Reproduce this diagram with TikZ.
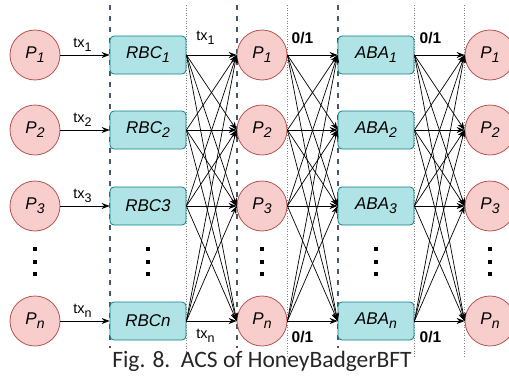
\documentclass[tikz,border=0pt]{standalone}
\usepackage{fontspec}
\setmainfont{Liberation Sans}
\newfontfamily\capfont{Carlito}
\usetikzlibrary{arrows.meta}
\definecolor{pfill}{HTML}{F8CECC}
\definecolor{pdraw}{HTML}{B85450}
\definecolor{bfill}{HTML}{B0E3E6}
\definecolor{bdraw}{HTML}{0E8088}
\definecolor{sepcol}{HTML}{46566B}
\newcommand\lowidx[2][14]{\raisebox{-4pt}{\fontsize{#1}{#1}\selectfont #2}}
\tikzset{
  party/.style={circle,draw=pdraw,fill=pfill,line width=0.8pt,minimum size=50pt,inner sep=0pt,
                font=\fontsize{17}{17}\selectfont\itshape},
  inst/.style={rectangle,rounded corners=4pt,draw=bdraw,fill=bfill,line width=0.8pt,
               minimum width=76pt,minimum height=38pt,inner sep=0pt,font=\fontsize{17}{17}\selectfont\itshape},
  msg/.style={-{Stealth[length=8pt,width=6pt]},line width=0.7pt},
  lbl/.style={font=\fontsize{14.5}{14.5}\selectfont,inner sep=1pt},
  bit/.style={font=\fontsize{15.5}{15.5}\selectfont\bfseries,inner sep=1pt},
  phase/.style={sepcol,dash pattern=on 5pt off 6pt,line width=1.6pt},
  split/.style={gray,dotted,line width=0.6pt}
}
\begin{document}
\begin{tikzpicture}[x=1pt,y=-1pt]
\useasboundingbox (0,0) rectangle (509,378);
% phase separators, behind the nodes
\foreach \x in {110,237,338} \draw[phase] (\x,5) -- (\x,348);
\foreach \x in {186,287,414,464} \draw[split] (\x,5) -- (\x,358);
% parties and instances
\node[inst] (rbc1) at (148,55) {RBC\lowidx{1}};
\node[inst] (rbc2) at (148,130) {RBC\lowidx{2}};
\node[inst] (rbc3) at (148,206) {RBC3};
\node[inst] (rbc4) at (148,321) {RBC\textit{n}};
\foreach \i/\y/\t in {1/55/1,2/130/2,3/206/3,4/321/n}{
  \node[party] (a\i) at (35,\y) {P\lowidx{\t}};
  \node[party] (b\i) at (262,\y) {P\lowidx{\t}};
  \node[party] (c\i) at (490,\y) {P\lowidx{\t}};
  \node[inst] (aba\i) at (376,\y) {ABA\lowidx{\t}};
  \draw[msg] (a\i.east) -- node[lbl,above=2pt,pos=0.45] {tx\lowidx[12.5]{\t}} (rbc\i.west);
}
% vertical dots
\foreach \x in {35,148,262,376,490}
  \foreach \y in {249,262,274} \fill (\x-1.6,\y-1.6) rectangle (\x+1.6,\y+1.6);
% all-to-all messages
\foreach \i in {1,...,4}{\foreach \j in {1,...,4}{
  \draw[msg] (rbc\i.east) -- (b\j.west);
  \draw[msg] (b\i.east) -- (aba\j.west);
  \draw[msg] (aba\i.east) -- (c\j.west);
}}
\path (rbc1.east) -- node[lbl,above=9pt,pos=0.38] {tx\lowidx[12.5]{1}} (b1.west);
\path (rbc4.east) -- node[lbl,below=7pt,pos=0.38] {tx\lowidx[12.5]{n}} (b4.west);
\path (b1.east) -- node[bit,above=10pt,pos=0.3] {0/1} (aba1.west);
\path (b4.east) -- node[bit,below=9pt,pos=0.3] {0/1} (aba4.west);
\path (aba1.east) -- node[bit,above=10pt,pos=0.32] {0/1} (c1.west);
\path (aba4.east) -- node[bit,below=9pt,pos=0.32] {0/1} (c4.west);
\node[font=\capfont\fontsize{23.5}{23.5}\selectfont,text=black!85] (cap) at (262,361) {Fig. 8.\ \ ACS of HoneyBadgerBFT};
\end{tikzpicture}
\end{document}
